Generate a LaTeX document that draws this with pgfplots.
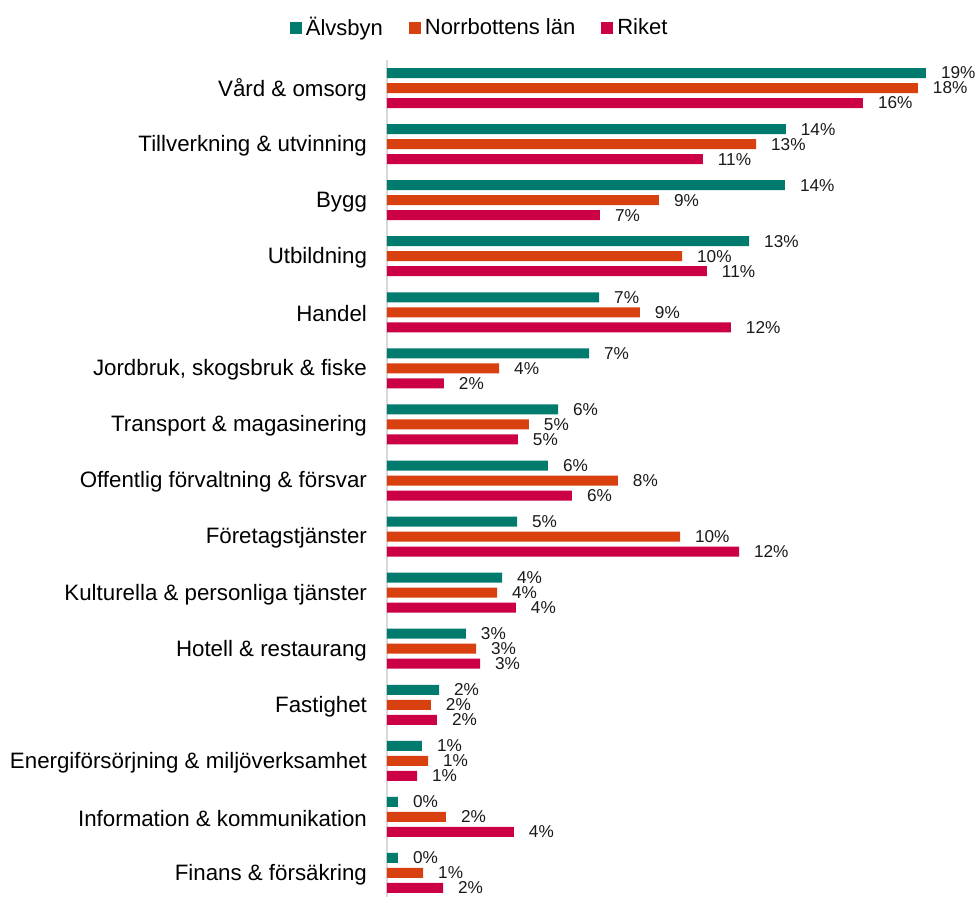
\documentclass[border=0pt]{standalone}
\usepackage{fontspec}
\setmainfont{Liberation Sans}
\usepackage{pgfplots}
\pgfplotsset{compat=1.18}

\definecolor{alvsbyn}{RGB}{0,123,109}
\definecolor{norrbotten}{RGB}{216,64,16}
\definecolor{riket}{RGB}{204,0,68}

\begin{document}
\begin{tikzpicture}
\begin{axis}[
    name=ax,
    xbar,
    bar width=5pt,
    scale only axis,
    width=289pt, height=420.5pt,
    xmin=0, xmax=20,
    ymin=-0.5, ymax=14.5,
    y dir=reverse,
    axis x line=none,
    axis y line*=left,
    y axis line style={draw=black!15, line width=0.75pt, -},
    ytick={0,...,14},
    yticklabels={Vård \& omsorg, Tillverkning \& utvinning, Bygg, Utbildning\hspace{3pt},
        Handel, {Jordbruk, skogsbruk \& fiske}, Transport \& magasinering,
        Offentlig förvaltning \& försvar, Företagstjänster,
        Kulturella \& personliga tjänster, Hotell \& restaurang, Fastighet,
        Energiförsörjning \& miljöverksamhet, Information \& kommunikation,
        Finans \& försäkring},
    major tick length=0pt,
    yticklabel style={font=\fontsize{11.15}{13}\selectfont, text=black, xshift=-6.5pt, yshift=-0.8pt},
    nodes near coords,
    nodes near coords align={horizontal},
    point meta=explicit symbolic,
    every node near coord/.append style={font=\fontsize{8.6}{10}\selectfont, text=black!90, anchor=west, xshift=4pt},
    legend columns=3,
    legend style={draw=none, at={(0.162,1.038)}, anchor=center,
        font=\fontsize{11}{13}\selectfont,
        /tikz/every even column/.append style={column sep=11pt}},
    legend image code/.code={\fill[#1] (0pt,-3pt) rectangle (6pt,3pt);},
]
\addplot[draw=none, fill=alvsbyn, bar shift=7.5pt] coordinates {
    (18.65,0) [19\%] (13.80,1) [14\%] (13.77,2) [14\%] (12.53,3) [13\%]
    (7.34,4) [7\%] (6.99,5) [7\%] (5.92,6) [6\%] (5.57,7) [6\%]
    (4.50,8) [5\%] (3.98,9) [4\%] (2.73,10) [3\%] (1.80,11) [2\%]
    (1.21,12) [1\%] (0.38,13) [0\%] (0.38,14) [0\%]
};
\addplot[draw=none, fill=norrbotten, bar shift=0pt] coordinates {
    (18.37,0) [18\%] (12.77,1) [13\%] (9.41,2) [9\%] (10.21,3) [10\%]
    (8.75,4) [9\%] (3.88,5) [4\%] (4.91,6) [5\%] (7.99,7) [8\%]
    (10.14,8) [10\%] (3.81,9) [4\%] (3.08,10) [3\%] (1.52,11) [2\%]
    (1.42,12) [1\%] (2.04,13) [2\%] (1.25,14) [1\%]
};
\addplot[draw=none, fill=riket, bar shift=-7.5pt] coordinates {
    (16.47,0) [16\%] (10.93,1) [11\%] (7.37,2) [7\%] (11.07,3) [11\%]
    (11.90,4) [12\%] (1.97,5) [2\%] (4.53,6) [5\%] (6.40,7) [6\%]
    (12.18,8) [12\%] (4.46,9) [4\%] (3.22,10) [3\%] (1.73,11) [2\%]
    (1.04,12) [1\%] (4.39,13) [4\%] (1.94,14) [2\%]
};
\legend{Älvsbyn, Norrbottens län, Riket}
\end{axis}
\pgfresetboundingbox
\path[use as bounding box] (ax.north west) ++(-193.5pt,30pt) rectangle ++(488.5pt,-448pt);
\end{tikzpicture}
\end{document}
